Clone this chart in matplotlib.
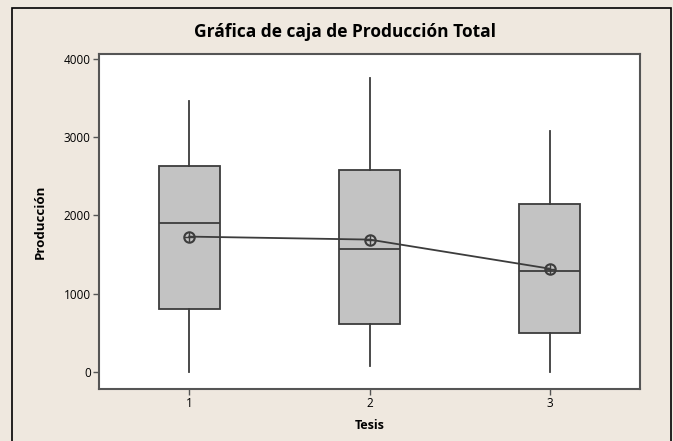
import matplotlib.pyplot as plt
from matplotlib.patches import Rectangle

plt.rcParams['font.family'] = ['Open Sans', 'DejaVu Sans']

tesis = [1, 2, 3]
tick_labels = ['1', '2', '3']
minimos = [0, 77, 0]
q1 = [808, 615, 500]
medianas = [1910, 1577, 1295]
q3 = [2628, 2577, 2141]
maximos = [3460, 3756, 3077]
medias = [1730, 1692, 1320]

W, H = 673, 441
fig = plt.figure(figsize=(W / 100, H / 100), dpi=100)
fig.patch.set_facecolor('#efe8df')
fig.patches.append(Rectangle((12 / W, -0.05), (671 - 12) / W, 1.05 - 8 / H,
                             transform=fig.transFigure, fill=False,
                             edgecolor='black', linewidth=1.2))

ax = fig.add_axes([99 / W, 1 - 389 / H, (640 - 99) / W, (389 - 54) / H])
ax.set_facecolor('white')

stats = []
for i in range(len(tesis)):
    stats.append({'whislo': minimos[i], 'q1': q1[i], 'med': medianas[i],
                  'q3': q3[i], 'whishi': maximos[i], 'fliers': []})

edge = '#3c3c3c'
ax.bxp(stats, positions=tesis, widths=0.34, patch_artist=True,
       showcaps=False, showfliers=False,
       boxprops=dict(facecolor='#c3c3c3', edgecolor=edge, linewidth=1.3),
       medianprops=dict(color=edge, linewidth=1.3),
       whiskerprops=dict(color=edge, linewidth=1.3))

# medias unidas por una linea, marcador circulo con cruz
ax.plot(tesis, medias, color=edge, linewidth=1.3, zorder=4)
ax.plot(tesis, medias, linestyle='none', marker='o', markersize=7.5,
        markerfacecolor='none', markeredgecolor=edge, markeredgewidth=1.5, zorder=5)
ax.plot(tesis, medias, linestyle='none', marker='+', markersize=6.5,
        markeredgecolor=edge, markeredgewidth=1.0, zorder=5)

ax.set_xlim(0.5, 3.5)
ax.set_ylim(-218, 4064)
ax.set_xticks(tesis)
ax.set_xticklabels(tick_labels)
ax.set_yticks([0, 1000, 2000, 3000, 4000])

for s in ax.spines.values():
    s.set_color('#555555')
    s.set_linewidth(1.5)
ax.tick_params(direction='out', length=4, width=1, color='#555555',
               labelsize=8.5, pad=2)

ax.set_xlabel('Tesis', fontsize=9, fontweight='bold', labelpad=6)
ax.set_ylabel('Producción', fontsize=9.5, fontweight='bold', labelpad=12)
fig.text(345 / W, 1 - 32 / H, 'Gráfica de caja de Producción Total',
         ha='center', va='center', fontsize=12.5, fontweight='bold')

fig.savefig('out.png', dpi=100, facecolor=fig.get_facecolor())
